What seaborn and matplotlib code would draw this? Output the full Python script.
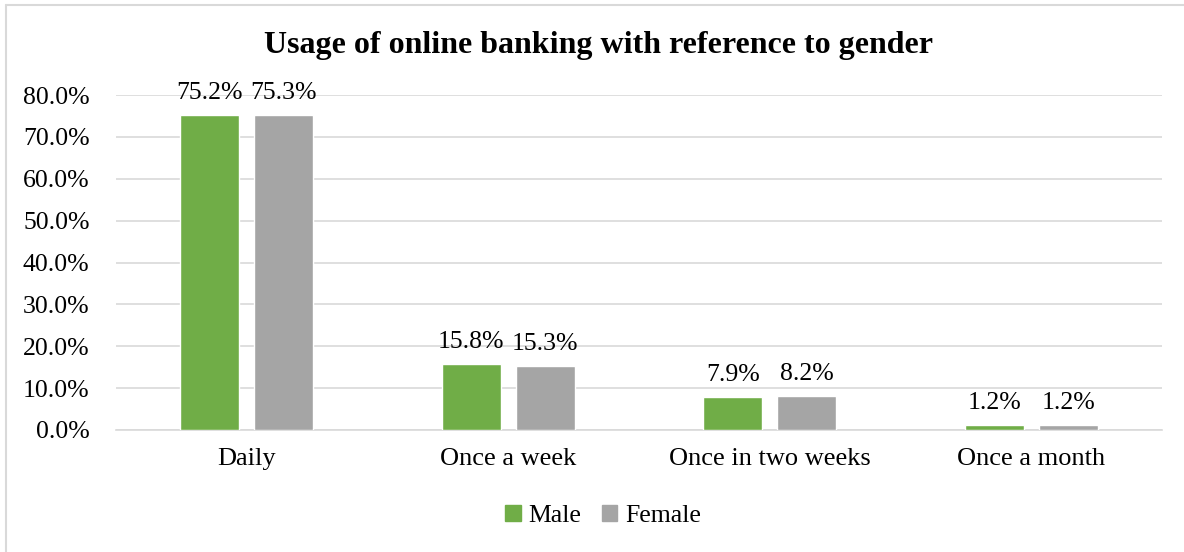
import matplotlib
matplotlib.use("Agg")
import matplotlib.pyplot as plt
from matplotlib.lines import Line2D
import pandas as pd
import seaborn as sns

# chart values
categories = ["Daily", "Once a week", "Once in two weeks", "Once a month"]
male = [75.2, 15.8, 7.9, 1.2]
female = [75.3, 15.3, 8.2, 1.2]
genders = ["Male", "Female"]
yticks = [0, 10, 20, 30, 40, 50, 60, 70, 80]

df = pd.DataFrame({
    "Frequency": categories * 2,
    "Gender": ["Male"] * len(male) + ["Female"] * len(female),
    "Share": male + female,
})

sns.set_theme(style="white")
plt.rcParams["font.family"] = ["Liberation Serif", "DejaVu Serif"]
plt.rcParams["text.color"] = "black"
plt.rcParams["xtick.color"] = "black"
plt.rcParams["ytick.color"] = "black"

fig = plt.figure(figsize=(11.84, 5.52), dpi=100)
ax = fig.add_axes([116 / 1184, 1 - 430 / 552, (1162 - 116) / 1184, (430 - 95) / 552])

palette = {"Male": "#70AD47", "Female": "#A5A5A5"}
sns.barplot(data=df, x="Frequency", y="Share", hue="Gender", hue_order=genders,
            order=categories, palette=palette, width=0.565, gap=0.2,
            saturation=1, ax=ax, legend=True, zorder=3)

ax.set_ylim(0, 80)
ax.set_xlim(-0.5, 3.5)
ax.set_yticks(yticks)
ax.set_yticklabels([f"{v:.1f}%" for v in yticks])
ax.yaxis.grid(True, color="#D9D9D9", linewidth=1.2, zorder=0)
ax.set_axisbelow(True)
for s in ["top", "right", "left"]:
    ax.spines[s].set_visible(False)
ax.spines["bottom"].set_color("#D9D9D9")
ax.spines["bottom"].set_linewidth(1.2)
ax.tick_params(axis="y", length=0, pad=19, labelsize=18.5, labelcolor="black")
ax.tick_params(axis="x", length=0, pad=13, labelsize=19, labelcolor="black")
ax.set_xlabel("")
ax.set_ylabel("")

for cont in ax.containers:
    for bar in cont:
        h = bar.get_height()
        ax.annotate(f"{h:.1f}%", (bar.get_x() + bar.get_width() / 2, h),
                    xytext=(0, 11.5), textcoords="offset points",
                    ha="center", va="baseline", fontsize=18.5, color="black",
                    annotation_clip=False)

ax.legend_.remove()
handles = [plt.Rectangle((0, 0), 1, 1, color=palette[g]) for g in genders]
fig.legend(handles, genders, loc="center", bbox_to_anchor=(603 / 1184, 1 - 516 / 552),
           ncol=2, frameon=False, fontsize=18.5, handlelength=0.6, handleheight=0.6,
           handletextpad=0.3, columnspacing=0.8, labelcolor="black")

fig.text(598 / 1184, 1 - 45 / 552, "Usage of online banking with reference to gender",
         ha="center", va="center", fontsize=23, fontweight="bold", color="black")

# outer chart border (top and left visible in reference)
fig.add_artist(Line2D([6 / 1184, 1.0], [1 - 5 / 552, 1 - 5 / 552], color="#D9D9D9", linewidth=1.5))
fig.add_artist(Line2D([6 / 1184, 6 / 1184], [0.0, 1 - 5 / 552], color="#D9D9D9", linewidth=1.5))

fig.savefig("out.png", dpi=100)
